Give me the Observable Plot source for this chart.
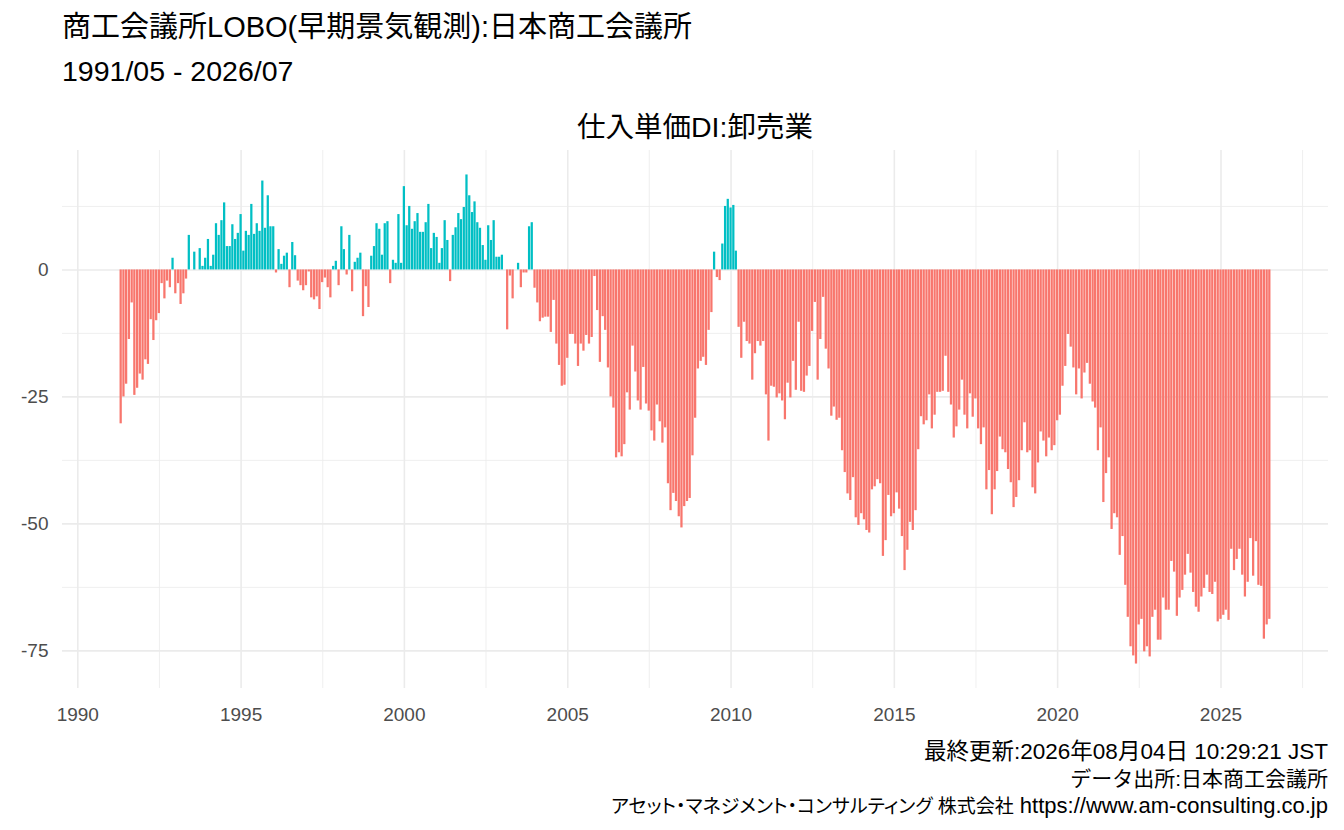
<!DOCTYPE html>
<html><head><meta charset="utf-8">
<script src="https://cdn.jsdelivr.net/npm/d3@7"></script>
<script src="https://cdn.jsdelivr.net/npm/@observablehq/plot@0.6"></script>
<style>
body{margin:0;background:#fff;font-family:"Liberation Sans","Noto Sans CJK JP",sans-serif;color:#000;}
#page{width:1344px;}
#header{position:relative;height:146px;}
#title{position:absolute;left:62px;top:11px;font-size:29px;line-height:32px;white-space:nowrap;}
#subtitle{position:absolute;left:62px;top:55px;font-size:28.5px;line-height:32px;white-space:nowrap;}
#ctitle{position:absolute;left:62px;width:1266px;top:111px;font-size:28.5px;line-height:32px;text-align:center;white-space:nowrap;}
#caption{text-align:right;padding-right:16px;line-height:27px;margin-top:2px;white-space:nowrap;}
.c1{font-size:22.5px;}
.c2{font-size:21px;}
.c3{font-size:22px;}
.kana{font-size:19px;font-feature-settings:"palt";}
svg{display:block;}
</style></head>
<body><div id="page">
<div id="header">
<div id="title">商工会議所LOBO(早期景気観測):日本商工会議所</div>
<div id="subtitle">1991/05 - 2026/07</div>
<div id="ctitle">仕入単価DI:卸売業</div>
</div>
<div id="chart"></div>
<div id="caption">
<div class="c1">最終更新:2026年08月04日 10:29:21 JST</div>
<div class="c2">データ出所:日本商工会議所</div>
<div class="c3"><span class="kana">アセット・マネジメント・コンサルティング 株式会社</span> https://www.am-consulting.co.jp</div>
</div>
</div>
<script>
// monthly series, starting 1991/05
const startYear = 1991, startMonth = 5;
const values = [
-30.3,-25.0,-22.5,-13.7,-6.5,-24.7,-23.3,-20.5,-21.7,-17.7,
-18.6,-9.8,-13.9,-10.0,-8.6,-2.7,-5.7,-2.2,-3.5,2.3,
-4.7,-2.7,-6.8,-4.7,-1.8,6.8,0,3.5,0,4.2,
0.7,2.3,6.0,0.7,2.9,9.1,6.8,9.7,13.2,4.6,
4.6,8.9,6.0,7.2,10.9,3.7,7.6,6.8,12.9,7.0,
9.1,7.6,17.5,8.2,14.6,8.5,8.5,-0.6,4.0,1.1,
2.7,3.3,-3.5,5.4,2.8,-2.2,-3.1,-4.1,-3.1,-0.4,
-5.5,-5.9,-5.3,-7.8,-2.5,-1.6,-3.5,-5.5,0.7,1.7,
-3.1,8.5,4.0,-1.0,6.8,-4.3,1.5,2.3,3.3,-9.2,
-3.3,-7.4,2.7,4.6,9.1,8.0,2.9,9.1,9.5,-2.7,
1.9,1.3,10.9,1.3,16.4,8.7,12.5,8.0,9.5,11.1,
7.4,7.4,9.3,12.9,4.2,7.2,6.4,1.3,4.2,9.7,
5.8,-2.3,6.8,8.3,11.1,9.9,12.3,18.7,14.6,11.3,
13.4,9.3,8.2,4.8,1.9,8.7,5.8,9.7,2.5,2.5,
2.9,0,-11.8,-1.2,-5.7,0,1.3,-3.5,-0.6,-0.6,
8.5,9.3,-3.6,-6.5,-10.2,-9.5,-9.3,-9.3,-12.3,-6.0,
-14.6,-18.8,-22.9,-22.7,-17.4,-12.7,-12.7,-14.6,-19.0,-14.6,
-16.0,-12.9,-14.6,-13.3,-1.3,-8.0,-18.2,-9.2,-11.9,-19.3,
-25.0,-27.2,-37.0,-36.0,-36.8,-34.4,-24.2,-27.6,-15.0,-20.1,
-25.8,-27.6,-19.2,-26.4,-27.8,-31.7,-33.7,-26.6,-29.9,-34.1,
-31.1,-42.1,-47.4,-44.0,-45.6,-48.6,-50.8,-46.6,-45.6,-45.0,
-36.6,-29.2,-19.5,-18.0,-17.2,-18.8,-11.9,-8.4,3.5,-1.5,
-2.1,5.1,12.5,13.9,12.2,12.7,3.7,-11.3,-17.4,-10.3,
-14.1,-14.6,-21.7,-16.5,-14.1,-15.0,-14.1,-24.6,-33.7,-22.9,
-23.1,-25.2,-24.4,-25.8,-29.5,-22.3,-25.2,-18.0,-23.7,-10.3,
-23.9,-24.1,-20.9,-19.0,-12.1,-6.4,-21.7,-13.7,-5.4,-15.6,
-19.5,-28.8,-27.0,-29.6,-29.2,-35.6,-39.9,-44.1,-45.4,-40.9,
-48.8,-50.3,-48.0,-49.2,-51.3,-51.8,-43.3,-42.7,-41.3,-42.1,
-56.4,-53.3,-44.4,-48.6,-48.0,-43.9,-47.1,-52.5,-59.2,-55.2,
-49.7,-51.3,-47.4,-35.4,-28.9,-30.5,-29.7,-24.6,-31.3,-28.6,
-24.1,-24.1,-23.9,-17.0,-24.1,-26.6,-33.1,-30.9,-27.6,-21.7,
-28.6,-31.3,-24.4,-29.0,-25.4,-31.3,-34.4,-31.1,-43.3,-39.5,
-48.2,-43.3,-39.7,-32.9,-35.4,-36.0,-39.3,-41.9,-46.8,-44.8,
-41.5,-35.6,-30.1,-36.0,-35.6,-42.9,-44.1,-38.0,-31.9,-33.7,
-36.8,-33.1,-35.6,-34.6,-29.7,-28.6,-22.9,-19.0,-12.7,-15.2,
-19.3,-24.6,-19.5,-25.4,-20.3,-18.4,-22.5,-26.0,-27.2,-35.6,
-31.1,-45.8,-40.1,-37.0,-51.1,-48.0,-48.8,-56.2,-52.5,-62.1,
-68.4,-74.2,-76.0,-77.6,-69.9,-68.8,-75.2,-74.2,-76.2,-68.4,
-67.0,-72.9,-72.9,-64.6,-67.0,-67.0,-57.4,-59.5,-68.2,-64.6,
-63.1,-60.1,-56.0,-59.7,-63.5,-66.4,-67.4,-64.4,-62.7,-60.1,
-63.5,-63.9,-61.5,-69.3,-68.8,-68.0,-67.0,-69.0,-55.0,-59.2,
-57.0,-55.0,-60.1,-64.4,-61.5,-52.9,-60.3,-53.5,-62.1,-62.3,
-72.7,-69.9,-68.8
];
const xTickYears = [1990,1995,2000,2005,2010,2015,2020,2025];
const xMinorYears = [1992,1997,2002,2007,2012,2017,2022,2027];
const yTicks = [-75,-50,-25,0];
const yMinor = [-62.5,-37.5,-12.5,12.5];
const posColor = "#00BFC4", negColor = "#F8766D";

const data = values.map((v,i)=>({date:new Date(Date.UTC(startYear,startMonth-1+i,1)), value:v}));
const DAY = 864e5, half = 0.9*28/2*DAY;
const x0 = +data[0].date - half, x1 = +data[data.length-1].date + half;
const xpad = (x1-x0)*0.05;
const vmin = Math.min(0,d3.min(values)), vmax = Math.max(0,d3.max(values));
const ypad = (vmax-vmin)*0.05;
const yearDate = y => new Date(Date.UTC(y,0,1));
const midDate = y => new Date(Date.UTC(y,6,2));

const chart = Plot.plot({
  width:1344, height:590,
  marginLeft:62, marginRight:16, marginTop:4, marginBottom:48,
  style:{fontSize:"19px", color:"#4d4d4d", fontFamily:"'Liberation Sans','Noto Sans CJK JP',sans-serif", background:"#fff"},
  x:{type:"utc", domain:[new Date(x0-xpad), new Date(x1+xpad)], label:null},
  y:{domain:[vmin-ypad, vmax+ypad], label:null},
  marks:[
    Plot.ruleY(yMinor,{stroke:"#ebebeb", strokeWidth:0.8}),
    Plot.ruleX(xMinorYears.map(midDate),{stroke:"#ebebeb", strokeWidth:0.8}),
    Plot.ruleY(yTicks,{stroke:"#ebebeb", strokeWidth:1.6}),
    Plot.ruleX(xTickYears.map(yearDate),{stroke:"#ebebeb", strokeWidth:1.6}),
    Plot.rectY(data,{x1:d=>new Date(+d.date-half), x2:d=>new Date(+d.date+half), y1:0, y2:"value", fill:d=>d.value>=0?posColor:negColor}),
    Plot.axisX({ticks:xTickYears.map(yearDate), tickFormat:d=>String(d.getUTCFullYear()), tickSize:0, tickPadding:19, label:null}),
    Plot.axisY({ticks:yTicks, tickFormat:d=>String(d), tickSize:0, tickPadding:14, label:null})
  ]
});
document.getElementById("chart").appendChild(chart);
</script>
</body></html>
